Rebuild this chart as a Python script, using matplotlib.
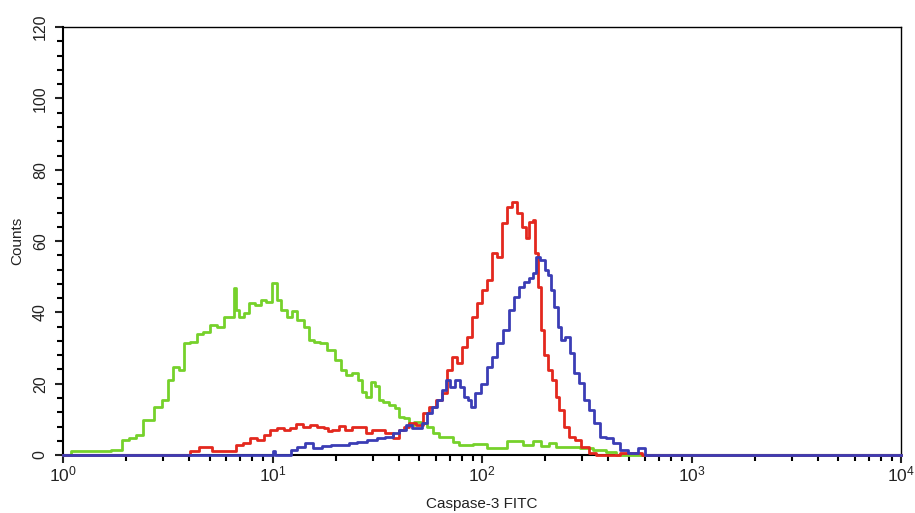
import matplotlib
matplotlib.use("Agg")
from matplotlib import pyplot as plt
from matplotlib.ticker import LogLocator, MultipleLocator, NullFormatter

plt.rcParams['font.family'] = ['Liberation Sans', 'DejaVu Sans']

# Caspase-3 FITC histograms (intensity, counts)
green_x = [1.0, 1.18, 1.36, 1.55, 1.83, 1.98, 2.16, 2.28, 2.55, 2.85, 3.08, 3.25, 3.47, 3.67,
           3.88, 4.19, 4.52, 4.83, 5.22, 5.64, 6.03, 6.37, 6.65, 6.73, 7.11, 7.51, 7.94, 8.57,
           9.06, 9.57, 10.3, 10.7, 11.3, 12.2, 12.6, 13.6, 14.5, 15.4, 16.2, 17.5, 19.0, 20.7,
           21.9, 23.1, 24.9, 26.4, 27.2, 28.8, 30.4, 31.4, 32.9, 34.7, 37.1, 39.2, 41.0, 43.3,
           45.7, 48.9, 52.8, 55.7, 60.3, 64.4, 69.5, 75.1, 80.2, 86.6, 93.5, 117, 146, 168,
           181, 202, 216, 234, 270, 315, 363, 419, 453, 10000]
green_y = [0, 1, 1, 1, 1.5, 4.2, 4.8, 5.6, 9.8, 13.5, 15.4, 21, 24.8, 23.8,
           31.4, 31.7, 34, 34.5, 36.4, 36, 38.7, 38.7, 46.8, 40.6, 38.7, 39.8, 42.6, 42,
           43.5, 43, 48.2, 43.5, 40.6, 38.7, 40.5, 37.8, 36, 32.2, 31.7, 31.5, 29.4, 26.6,
           23.8, 22.4, 23, 21, 17.7, 16.3, 20.5, 19.5, 15.4, 14.9, 14, 13.2, 10.7, 10.5,
           8.4, 9.3, 9, 7.9, 6.2, 5.1, 5.1, 3.6, 2.8, 2.8, 3.0, 2, 4, 2.7,
           3.9, 2.5, 3.3, 2.3, 2.3, 2, 1.3, 0.9, 0, 0]

red_x = [1.0, 3.88, 4.19, 4.67, 5.05, 5.22, 5.64, 5.83, 6.51, 6.88, 7.51, 8.11, 8.76, 9.36,
         10.1, 10.9, 11.7, 12.6, 13.3, 14.5, 15.7, 17.0, 18.1, 18.5, 20.0, 21.4, 23.1, 24.9,
         26.7, 28.8, 31.1, 33.2, 35.9, 38.8, 41.0, 43.3, 46.2, 50.0, 54.0, 57.7, 62.2, 65.8,
         69.5, 73.4, 77.6, 82.0, 86.6, 91.5, 96.8, 102, 108, 114, 121, 127, 135, 142,
         150, 159, 164, 172, 177, 181, 187, 194, 202, 209, 221, 228, 239, 252, 267, 285,
         308, 336, 363, 545, 609, 10000]
red_y = [0, 0, 1, 2.2, 2.2, 1, 1, 1, 1, 2.8, 3.3, 4.7, 4.2, 5.6,
         7, 7.5, 7, 7.5, 8.7, 7.9, 8.4, 7.9, 7.5, 6.8, 7, 8.1, 7, 8,
         8, 6.2, 7, 7, 6.2, 4.7, 7, 8, 9, 8.4, 11.8, 13.5, 15.4, 17.4,
         23.8, 27.5, 25.8, 30.3, 33.1, 38.7, 42.6, 46.3, 49, 56.6, 55.5, 65, 69.6, 71,
         67.8, 64, 61, 65.3, 65.9, 56.6, 47, 35, 28, 23.8, 21, 16.3, 12.6, 7.9, 5.1, 4.2,
         2.3, 0.6, 0, 0.5, 0, 0]

blue_x = [1.0, 9.89, 10.1, 10.4, 11.9, 12.6, 13.6, 14.9, 16.2, 18.1, 20.0, 22.4, 23.9, 26.7,
          29.7, 33.2, 35.9, 38.8, 41.4, 44.8, 47.3, 50.0, 52.8, 55.7, 58.9, 62.2, 65.8, 68.0,
          71.8, 75.9, 80.2, 83.8, 86.6, 89.6, 94.6, 102, 108, 114, 121, 130, 138, 146,
          154, 162, 172, 177, 183, 194, 205, 209, 216, 226, 234, 241, 255, 267, 282, 298,
          315, 332, 351, 375, 405, 438, 468, 522, 583, 615, 10000]
blue_y = [0, 0, 1, 0, 0, 1.4, 2.2, 3.3, 2, 2.5, 2.8, 2.8, 3.3, 3.7,
          4.2, 4.7, 5.1, 6.2, 7, 8.4, 7.5, 7.5, 9, 11.8, 13.5, 15.4, 18.2, 21,
          19.1, 21, 19, 16.3, 15.4, 13.5, 17.4, 20, 24.7, 27.5, 31.4, 35, 40.6, 44.3,
          47.1, 48.5, 49.6, 51, 55.5, 54.6, 51.9, 50.5, 46.3, 41.5, 35.9, 32.2, 33.1, 28.6, 23, 20.2,
          15.4, 12.6, 9, 5.1, 4.7, 3.3, 1.4, 0.6, 2, 0, 0]

fig = plt.figure(figsize=(9.15, 5.13), dpi=100)
ax = fig.add_axes([0.069, 0.113, 0.916, 0.834])

ax.plot(green_x, green_y, drawstyle='steps-mid', color='#76d12b', lw=2.0, clip_on=False, zorder=3)
ax.plot(red_x, red_y, drawstyle='steps-mid', color='#e3281e', lw=2.0, clip_on=False, zorder=3)
ax.plot(blue_x, blue_y, drawstyle='steps-mid', color='#3b3db5', lw=2.0, clip_on=False, zorder=3)

ax.set_xscale('log')
ax.set_xlim(1, 10000)
ax.set_ylim(0, 120)

ax.xaxis.set_major_locator(LogLocator(base=10, numticks=10))
ax.xaxis.set_minor_locator(LogLocator(base=10, subs=range(2, 10), numticks=10))
ax.xaxis.set_minor_formatter(NullFormatter())
ax.yaxis.set_major_locator(MultipleLocator(20))
ax.yaxis.set_minor_locator(MultipleLocator(4))

for s in ax.spines.values():
    s.set_linewidth(1.0)
ax.spines['left'].set_linewidth(1.5)
ax.spines['bottom'].set_linewidth(1.5)

ax.tick_params(which='major', length=6, width=1.5, colors='#222222')
ax.tick_params(which='minor', length=4, width=1.5)
ax.tick_params(axis='x', which='major', pad=1, labelsize=12.5)
ax.tick_params(axis='y', which='major', pad=5, labelsize=11.5)
for lab in ax.get_yticklabels():
    lab.set_rotation(90)
    lab.set_va('center')

ax.set_xlabel('Caspase-3 FITC', fontsize=11, color='#222222', labelpad=9)
ax.set_ylabel('Counts', fontsize=11, color='#222222', labelpad=6)

plt.savefig('out.png', dpi=100)
